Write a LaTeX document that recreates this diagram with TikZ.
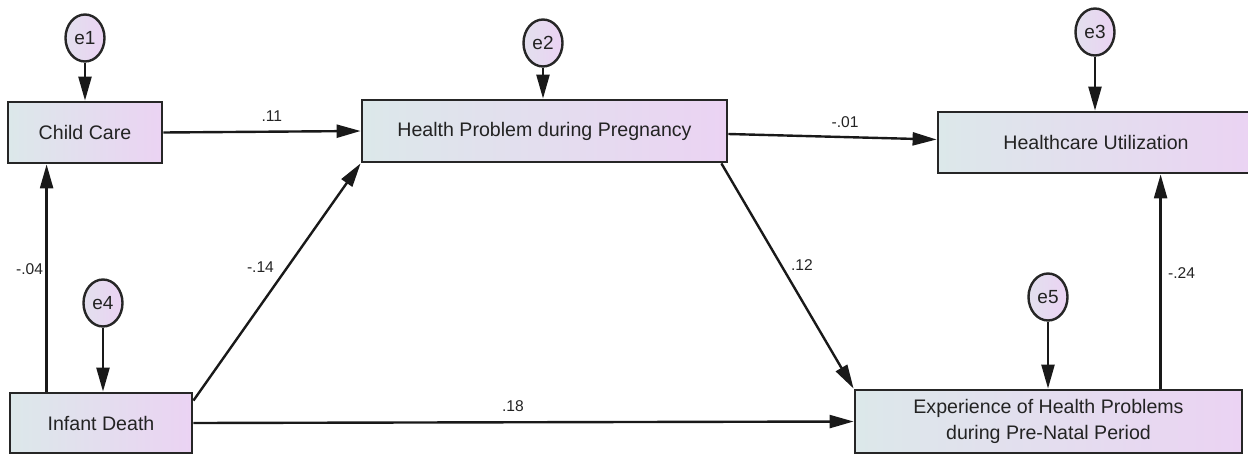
\documentclass[tikz,border=0pt]{standalone}
\usepackage{fontspec}
\setmainfont{Liberation Sans}
\usetikzlibrary{arrows.meta, shapes.geometric, calc}
\definecolor{boxleft}{RGB}{220,232,234}
\definecolor{boxright}{RGB}{235,211,243}
\definecolor{txtgray}{RGB}{35,35,35}
\tikzset{
    var/.style={rectangle, draw=black!85, line width=1.4pt, inner sep=0pt,
        left color=boxleft, right color=boxright, text=txtgray,
        font=\fontsize{9.8}{13}\selectfont, align=center},
    err/.style={ellipse, draw=black!85, line width=1.2pt, inner sep=0pt,
        minimum width=19.5pt, minimum height=23.5pt,
        left color=boxleft!60!boxright, right color=boxright, text=txtgray,
        font=\fontsize{9.5}{11}\selectfont},
    path/.style={-{Triangle[length=12pt, width=6.5pt]}, line width=1.2pt, black!90},
    coef/.style={font=\fontsize{7.8}{9}\selectfont, text=txtgray, inner sep=0pt}
}

\begin{document}
\begin{tikzpicture}[x=0.5pt, y=-0.5pt]
\useasboundingbox (0,0) rectangle (1248,455);

% Observed variables
\node[var, minimum width=77pt, minimum height=30.5pt] (cc) at (85,132.5) {Child Care};
\node[var, minimum width=182.5pt, minimum height=31pt] (hpp) at (544.5,131) {Health Problem during Pregnancy};
\node[var, minimum width=158pt, minimum height=30.5pt] (hu) at (1096,142.5) {Healthcare Utilization};
\node[var, minimum width=91pt, minimum height=30pt] (infant) at (101,423) {Infant Death};
\node[var, minimum width=193.5pt, minimum height=31.5pt] (exp) at (1048.5,421.5) {Experience of Health Problems\\during Pre-Natal Period};

% Error terms
\node[err] (e1) at (85,38) {e1};
\node[err] (e2) at (543,43) {e2};
\node[err] (e3) at (1095,32) {e3};
\node[err] (e4) at (103,303) {e4};
\node[err] (e5) at (1048,297) {e5};

\foreach \e/\v in {e1/cc, e2/hpp, e3/hu, e4/infant, e5/exp}
  \draw[path] (\e) -- (\e.south |- \v.north);

% Structural paths
\draw[path] (cc.east) -- (hpp.west) node[coef, pos=.55, yshift=8pt] {.11};
\draw[path] ($(hpp.east)+(0,3)$) -- ($(hu.west)+(0,-3)$) node[coef, pos=.56, yshift=7.5pt] {-.01};
\draw[path] ($(infant.north west)+(38,0)$) coordinate (a) -- (a |- cc.south) node[coef, pos=.54, xshift=-8.5pt] {-.04};
\draw[path] ($(infant.north east)+(0,9)$) -- (hpp.south west) node[coef, pos=.5625, xshift=-13.5pt] {-.14};
\draw[path] (infant.east) -- (exp.west) node[coef, pos=.484, yshift=8pt] {.18};
\draw[path] ($(hpp.south east)+(-7,0)$) -- (exp.north west) node[coef, pos=.45, xshift=10.5pt] {.12};
\draw[path] ($(exp.north west)+(307,0)$) coordinate (b) -- (b |- hu.south) node[coef, pos=.54, xshift=10.5pt] {-.24};
\end{tikzpicture}
\end{document}
